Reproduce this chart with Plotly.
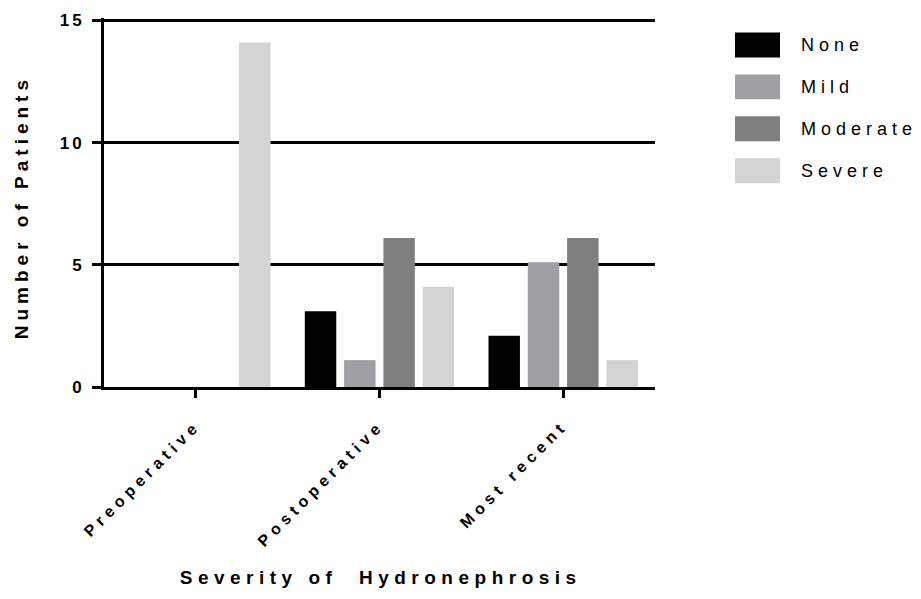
import plotly.graph_objects as go

categories = ["Preoperative", "Postoperative", "Most recent"]
series_names = ["None", "Mild", "Moderate", "Severe"]
none_vals = [0, 3.1, 2.1]
mild_vals = [0, 1.1, 5.1]
moderate_vals = [0, 6.1, 6.1]
severe_vals = [14.1, 4.1, 1.1]
series_colors = ["#000000", "#A09FA4", "#7F7F7F", "#D4D4D4"]
y_ticks = [0, 5, 10, 15]

values = [none_vals, mild_vals, moderate_vals, severe_vals]

W, H = 921, 599
Y_TOP = 15.1
UNIT = (387 - 20) / 15.0
L, R = 104, 266
T = 20 - (Y_TOP - 15) * UNIT
B = H - 387
PW, PH = W - L - R, H - T - B

def px(x):
    return (x - L) / PW

def py(y):
    return (H - B - y) / PH

FONT = "Liberation Sans, Arial, sans-serif"

fig = go.Figure()
for name, vals, col in zip(series_names, values, series_colors):
    fig.add_trace(go.Bar(x=categories, y=vals, name=name,
                         marker=dict(color=col, line=dict(width=0)),
                         showlegend=False, hoverinfo="skip"))

shapes = []
annotations = []
for i, (name, col) in enumerate(zip(series_names, series_colors)):
    top = 32 + i * 42
    shapes.append(dict(type="rect", xref="paper", yref="paper",
                       x0=px(735), x1=px(780), y0=py(top + 25), y1=py(top),
                       fillcolor=col, line=dict(width=0)))
    annotations.append(dict(xref="paper", yref="paper", x=px(799), y=py(top + 13),
                            text=name, showarrow=False, xanchor="left", yanchor="middle",
                            align="left",
                            font=dict(family=FONT, size=18, color="#000")))

annotations.append(dict(xref="paper", yref="paper", x=px(380), y=py(578),
                        text="<b>Severity of  Hydronephrosis</b>", showarrow=False,
                        xanchor="center", yanchor="middle",
                        font=dict(family=FONT, size=19, color="#000")))
annotations.append(dict(xref="paper", yref="paper", x=px(21), y=py(207),
                        text="<b>Number of Patients</b>", showarrow=False, textangle=-90,
                        xanchor="center", yanchor="middle",
                        font=dict(family=FONT, size=19, color="#000")))

fig.update_layout(
    width=W, height=H,
    margin=dict(l=L, r=R, t=T, b=B),
    paper_bgcolor="white", plot_bgcolor="white",
    barmode="group", bargap=0.144, bargroupgap=0.2,
    shapes=shapes, annotations=annotations,
    xaxis=dict(range=[-0.5, 2.5], showline=True, linecolor="black", linewidth=3,
               ticks="outside", ticklen=8, tickwidth=3, tickcolor="black",
               tickangle=-45, showgrid=False, zeroline=False, ticklabelstandoff=12,
               tickfont=dict(family=FONT, size=16, color="#000", weight="bold")),
    yaxis=dict(range=[0, Y_TOP], tickvals=y_ticks, showline=True, linecolor="black", linewidth=3,
               ticks="outside", ticklen=9, tickwidth=3, tickcolor="black",
               showgrid=True, gridcolor="black", gridwidth=3, zeroline=False,
               ticklabelstandoff=4,
               tickfont=dict(family=FONT, size=17, color="#000", weight="bold")),
)

post = """
document.body.style.margin = '0';
var gd = document.getElementById('{plot_id}');
function applyLS(){
  gd.querySelectorAll('.xtick text').forEach(function(t){ t.style.letterSpacing='5px'; });
  gd.querySelectorAll('.ytick text').forEach(function(t){ t.style.letterSpacing='3px'; });
  gd.querySelectorAll('.annotation-text').forEach(function(t){
    var s = t.textContent;
    if (['None','Mild','Moderate','Severe'].indexOf(s) >= 0) { t.style.letterSpacing='5px'; }
    else if (s.indexOf('Number') >= 0) { t.style.letterSpacing='5px'; }
    else { t.style.letterSpacing='5.5px'; }
  });
}
applyLS();
gd.on('plotly_afterplot', applyLS);
"""

fig.write_html("out.html", post_script=post, config={"displayModeBar": False})
